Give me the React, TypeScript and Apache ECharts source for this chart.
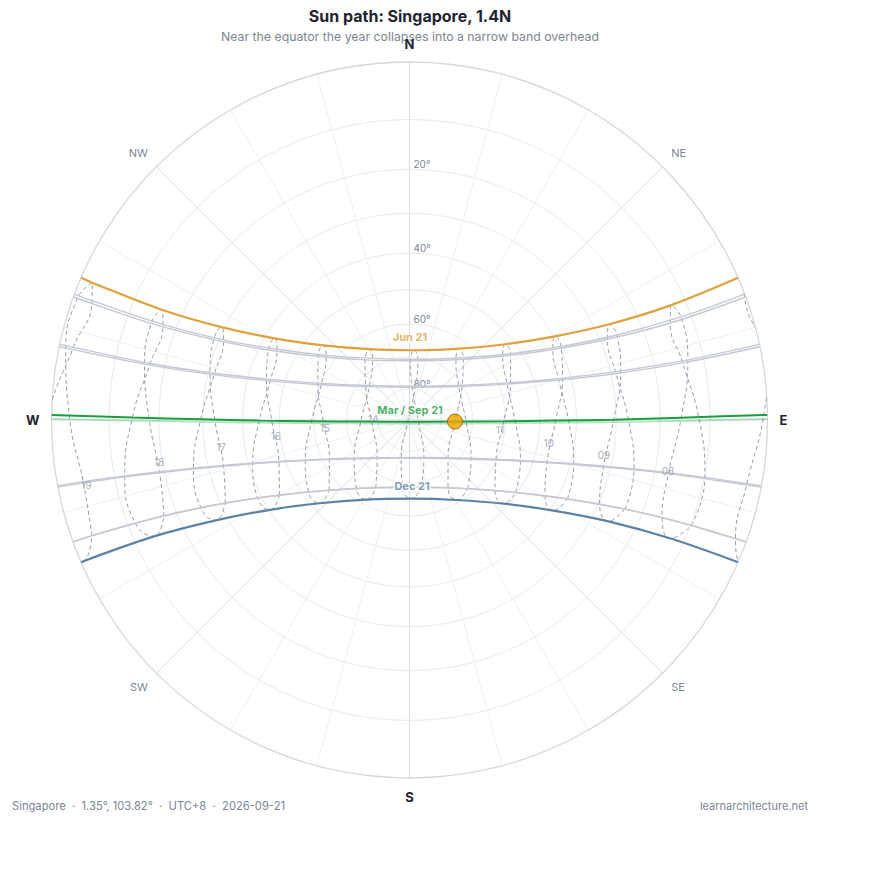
import { useEffect, useRef } from 'react'
import * as echarts from 'echarts'

const TITLE = 'Sun path: Singapore, 1.4N'
const SUBTITLE = 'Near the equator the year collapses into a narrow band overhead'
const FOOTER_LEFT = 'Singapore  ·  1.35°, 103.82°  ·  UTC+8  ·  2026-09-21'
const FOOTER_RIGHT = 'learnarchitecture.net'

// clock hours of the analemmas
const HOURS = ['07', '08', '09', '10', '11', '12', '13', '14', '15', '16', '17', '18', '19']

// sun at each clock hour 07..19 on the 21st, [azimuth°, altitude°]
const JAN21 = [[109.9, -4.2], [110.5, 9.9], [112.5, 23.9], [116.6, 37.5], [124.3, 50.5], [139.8, 61.8], [169.8, 68.4], [206.5, 66.1], [228.9, 56.8], [240.0, 44.5], [245.7, 31.1], [248.7, 17.3], [250.0, 3.3]]
const FEB21 = [[100.5, -4.8], [101.0, 9.9], [102.3, 24.6], [104.9, 39.2], [110.0, 53.5], [121.9, 67.1], [159.0, 77.2], [220.6, 74.2], [244.1, 62.1], [252.4, 48.1], [256.3, 33.7], [258.3, 19.0], [259.3, 4.3]]
const MAR21 = [[89.7, -3.0], [90.1, 12.0], [90.5, 27.0], [90.9, 42.0], [91.7, 57.0], [93.5, 71.9], [110.7, 86.8], [264.6, 78.0], [267.8, 63.0], [268.8, 48.0], [269.4, 33.0], [269.8, 18.0], [270.1, 3.0]]
const APR21 = [[78.2, -0.6], [78.2, 14.1], [77.3, 28.8], [75.0, 43.3], [69.8, 57.6], [55.8, 71.1], [4.8, 79.5], [307.3, 72.5], [291.2, 59.3], [285.4, 45.0], [282.9, 30.5], [281.9, 15.8], [281.8, 1.1]]
const MAY21 = [[69.9, 0.2], [69.6, 14.3], [67.8, 28.3], [63.8, 41.9], [55.6, 55.0], [37.6, 66.0], [0.9, 71.2], [323.5, 66.4], [304.9, 55.4], [296.4, 42.5], [292.3, 28.8], [290.5, 14.8], [290.1, 0.7]]
const JUN21 = [[66.5, -0.9], [66.3, 12.8], [64.4, 26.5], [60.1, 39.8], [51.7, 52.3], [34.8, 62.7], [3.9, 67.9], [330.5, 64.4], [310.9, 54.7], [301.2, 42.5], [296.3, 29.3], [294.0, 15.7], [293.4, 2.0]]
const JUL21 = [[69.3, -2.1], [69.2, 11.9], [67.7, 25.9], [64.1, 39.6], [56.7, 52.7], [40.8, 64.1], [7.8, 70.6], [329.0, 67.3], [307.8, 57.2], [298.1, 44.5], [293.3, 31.0], [291.2, 17.1], [290.6, 3.1]]
const AUG21 = [[77.8, -1.7], [77.8, 13.0], [76.9, 27.6], [74.7, 42.2], [69.7, 56.5], [56.5, 70.0], [10.3, 79.0], [310.7, 73.2], [292.6, 60.2], [286.3, 46.0], [283.5, 31.5], [282.3, 16.9], [282.2, 2.3]]
const SEP21 = [[89.2, 0.6], [89.5, 15.6], [89.9, 30.6], [90.2, 45.6], [90.8, 60.5], [92.0, 75.5], [225.1, 89.2], [268.1, 74.5], [269.3, 59.4], [269.8, 44.5], [270.2, 29.5], [270.5, 14.5], [270.8, -0.5]]
const OCT21 = [[100.9, 2.4], [101.7, 17.1], [103.6, 31.7], [107.2, 46.2], [114.8, 60.2], [135.0, 72.7], [192.3, 77.6], [234.9, 68.6], [248.7, 55.3], [254.4, 41.1], [257.2, 26.5], [258.7, 11.9], [259.3, -2.9]]
const NOV21 = [[110.0, 1.8], [111.1, 15.8], [113.9, 29.7], [119.2, 43.1], [129.5, 55.6], [150.4, 65.4], [186.1, 68.6], [217.8, 62.8], [234.5, 51.8], [242.8, 39.0], [247.2, 25.4], [249.4, 11.4], [250.1, -2.7]]
const DEC21 = [[113.4, -1.2], [114.4, 12.6], [117.0, 26.1], [122.2, 39.2], [131.6, 51.2], [149.4, 60.9], [178.5, 65.2], [208.5, 61.6], [227.2, 52.2], [237.2, 40.3], [242.6, 27.3], [245.5, 13.8], [246.6, 0.1]]

// sunrise / sunset azimuths for the same days
const RISE_AZ = [109.9, 100.6, 89.8, 78.2, 69.9, 66.6, 69.4, 77.8, 89.2, 100.8, 109.9, 113.4]
const SET_AZ = [250.1, 259.4, 270.2, 281.8, 290.1, 293.4, 290.6, 282.2, 270.8, 259.2, 250.1, 246.6]

// sun now: 2026-09-21 12:00
const SUN_NOW = [92.0, 75.5]

const DATE_LABEL_TEXT = ['Jun 21', 'Mar / Sep 21', 'Dec 21']
const DATE_LABEL_POS = [[0.3, 63.9], [3.0, 86.8], [177.8, 69.1]]

const HOUR_LABEL_TEXT = ['08', '09', '10', '11', '14', '15', '16', '17', '18', '19']
const HOUR_LABEL_POS = [[101.2, 17.3], [100.2, 32.2], [99.4, 46.9], [96.3, 61.5], [271.6, 78.4], [264.6, 63.3], [263.2, 48.8], [261.8, 34.0], [260.5, 19.3], [258.6, 4.7]]

const RING_ALTS = [10, 20, 30, 40, 50, 60, 70, 80]
const RING_LABEL_ALTS = [20, 40, 60, 80]
const COMPASS = ['N', 'NE', 'E', 'SE', 'S', 'SW', 'W', 'NW']

const DAY_ROWS = [JAN21, FEB21, MAR21, APR21, MAY21, JUN21, JUL21, AUG21, SEP21, OCT21, NOV21, DEC21]

const ORANGE = '#e0a03c'
const GREEN = '#17a03c'
const BLUE = '#5c82a6'
const GREY_PATH = '#c3c8d1'
const MUTED = '#7c8595'
const HOUR_GREY = '#8f97a5'

// stereographic: zenith at centre, horizon at radius 1
const toR = (alt: number) => Math.tan((((90 - alt) / 2) * Math.PI) / 180)
const fromR = (r: number) => 90 - (2 * Math.atan(r) * 180) / Math.PI
const pt = (p: number[]) => [toR(p[1]), p[0]]

function pathStyle(d: number) {
  if (d === 5) return { color: ORANGE, width: 2.2, z: 5, opacity: 1 }
  if (d === 11) return { color: BLUE, width: 2.2, z: 5, opacity: 1 }
  if (d === 8) return { color: GREEN, width: 2, z: 6, opacity: 1 }
  if (d === 2) return { color: GREEN, width: 1.8, z: 6, opacity: 0.3 }
  return { color: GREY_PATH, width: 1.4, z: 4, opacity: 1 }
}

function buildOption(): echarts.EChartsOption {
  const analemmas = HOURS.map((h, i) => ({
    type: 'line',
    name: `${h}:00`,
    coordinateSystem: 'polar',
    data: [...DAY_ROWS, DAY_ROWS[0]].map((row) => pt(row[i])),
    smooth: 0.5,
    symbol: 'none',
    clip: true,
    silent: true,
    z: 3,
    lineStyle: { color: '#969daa', width: 1, type: [4, 3] },
  }))

  const paths = DAY_ROWS.map((row, d) => {
    const s = pathStyle(d)
    return {
      type: 'line',
      coordinateSystem: 'polar',
      data: [pt([RISE_AZ[d], 0]), ...row.filter((p) => p[1] > 0.5).map(pt), pt([SET_AZ[d], 0])],
      smooth: 0.35,
      symbol: 'none',
      clip: true,
      silent: true,
      z: s.z,
      lineStyle: { color: s.color, width: s.width, opacity: s.opacity },
    }
  })

  const dateColors = [ORANGE, GREEN, BLUE]

  return {
    animation: false,
    textStyle: { fontFamily: 'Inter, "Noto Sans", sans-serif' },
    polar: { center: [401.5, 420], radius: 358 },
    angleAxis: {
      type: 'value',
      min: 0,
      max: 360,
      interval: 15,
      startAngle: 90,
      clockwise: true,
      axisLine: { lineStyle: { color: '#d5d7dc', width: 1.3 } },
      axisTick: { show: false },
      splitLine: { lineStyle: { color: ['#d9dbe0', '#eeeff2', '#eeeff2'], width: 1 } },
      axisLabel: {
        margin: 12,
        formatter: (v: number) => {
          if (v % 45 !== 0 || v >= 360) return ''
          const name = COMPASS[v / 45]
          return name.length === 1 ? `{major|${name}}` : `{minor|${name}}`
        },
        rich: {
          major: { fontSize: 13, fontWeight: 'bold', color: '#1f2430' },
          minor: { fontSize: 11, color: MUTED },
        },
      },
    },
    radiusAxis: {
      type: 'value',
      min: 0,
      max: 1,
      axisLine: { show: false },
      axisTick: { show: false, customValues: RING_ALTS.map(toR) },
      splitLine: { show: true, lineStyle: { color: '#e9eaee', width: 1 } },
      axisLabel: {
        customValues: RING_LABEL_ALTS.map(toR),
        formatter: (v: number) => `${Math.round(fromR(v))}°`,
        margin: -4,
        align: 'left',
        verticalAlign: 'bottom',
        color: MUTED,
        fontSize: 10,
      },
    },
    graphic: [
      { type: 'text', x: 402, y: 16, style: { text: TITLE, fontSize: 16, fontWeight: 'bold', fill: '#1f2430', align: 'center', verticalAlign: 'middle', fontFamily: 'Inter' } },
      { type: 'text', x: 402, y: 36, style: { text: SUBTITLE, fontSize: 12.3, fill: MUTED, align: 'center', verticalAlign: 'middle', fontFamily: 'Inter' } },
      { type: 'text', x: 4, y: 806, style: { text: FOOTER_LEFT, fontSize: 11.2, fill: MUTED, align: 'left', verticalAlign: 'middle', fontFamily: 'Inter' } },
      { type: 'text', x: 800, y: 806, style: { text: FOOTER_RIGHT, fontSize: 11, fill: MUTED, align: 'right', verticalAlign: 'middle', fontFamily: 'Inter' } },
    ],
    series: [
      ...analemmas,
      ...paths,
      {
        type: 'scatter',
        coordinateSystem: 'polar',
        symbolSize: 0,
        silent: true,
        z: 7,
        itemStyle: { color: HOUR_GREY },
        data: HOUR_LABEL_POS.map((p, i) => ({ value: pt(p), name: HOUR_LABEL_TEXT[i] })),
        label: {
          show: true,
          position: 'inside',
          formatter: '{b}',
          color: HOUR_GREY,
          fontSize: 10,
          textBorderColor: 'rgba(0,0,0,0)',
          textBorderWidth: 0,
        },
      },
      {
        type: 'scatter',
        coordinateSystem: 'polar',
        symbolSize: 0,
        silent: true,
        z: 8,
        data: DATE_LABEL_POS.map((p, i) => ({
          value: pt(p),
          name: DATE_LABEL_TEXT[i],
          label: { color: dateColors[i] },
        })),
        label: {
          show: true,
          position: 'inside',
          formatter: '{b}',
          fontSize: 11,
          fontWeight: 'bold',
          textBorderColor: '#ffffff',
          textBorderWidth: 3,
        },
      },
      {
        type: 'scatter',
        coordinateSystem: 'polar',
        symbolSize: 15,
        silent: true,
        z: 10,
        data: [pt(SUN_NOW)],
        itemStyle: { color: '#f0a400', borderColor: '#8c5d00', borderWidth: 1 },
      },
    ] as echarts.SeriesOption[],
  } as echarts.EChartsOption
}

export default function App() {
  const elRef = useRef<HTMLDivElement | null>(null)

  useEffect(() => {
    if (!elRef.current) return
    const chart = echarts.init(elRef.current, undefined, { renderer: 'svg' })
    chart.setOption(buildOption())
    return () => {
      chart.dispose()
    }
  }, [])

  // pulled up over the body margin so the title sits inside the canvas
  return <div ref={elRef} style={{ width: 864, height: 872, marginTop: -8 }} />
}
